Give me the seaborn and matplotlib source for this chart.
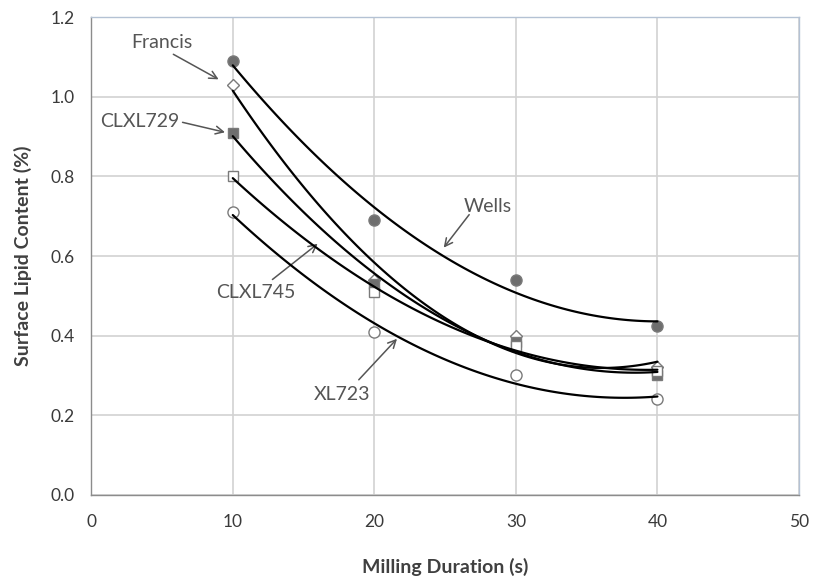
import numpy as np
import pandas as pd
import seaborn as sns
import matplotlib.pyplot as plt

# Milling duration (s) and surface lipid content (%) per cultivar
duration = [10, 20, 30, 40]
wells = [1.09, 0.69, 0.54, 0.425]
francis = [1.03, 0.54, 0.40, 0.32]
clxl729 = [0.91, 0.53, 0.385, 0.30]
clxl745 = [0.80, 0.51, 0.375, 0.31]
xl723 = [0.71, 0.41, 0.30, 0.24]

x_ticks = [0, 10, 20, 30, 40, 50]
y_ticks = [0.0, 0.2, 0.4, 0.6, 0.8, 1.0, 1.2]

sns.set_theme(style="white")
plt.rcParams['font.family'] = ['Lato', 'DejaVu Sans']

fig, ax = plt.subplots(figsize=(8.22, 5.76), dpi=100)
fig.subplots_adjust(left=0.111, right=0.972, bottom=0.141, top=0.970)

# marker style per series: (marker, face, size)
styles = {
    'Wells': ('o', '#6e6e6e', 8),
    'Francis': ('D', 'white', 6.5),
    'CLXL729': ('s', '#6e6e6e', 7.5),
    'CLXL745': ('s', 'white', 7.5),
    'XL723': ('o', 'white', 8),
}
series = {'Wells': wells, 'Francis': francis, 'CLXL729': clxl729,
          'CLXL745': clxl745, 'XL723': xl723}

for name, vals in series.items():
    df = pd.DataFrame({'t': duration, 'lipid': vals})
    marker, face, size = styles[name]
    ax.plot(df['t'], df['lipid'], linestyle='none', marker=marker,
            markerfacecolor=face, markeredgecolor='#7a7a7a',
            markeredgewidth=1.0, markersize=size, zorder=3)
    # second order polynomial trendline like the Excel original
    sns.regplot(data=df, x='t', y='lipid', order=2, ci=None, scatter=False,
                ax=ax, line_kws=dict(color='black', lw=1.6, zorder=4))

ax.set_xlim(0, 50)
ax.set_ylim(0, 1.2)
ax.set_xticks(x_ticks)
ax.set_yticks(y_ticks)
ax.set_yticklabels([f"{v:.1f}" for v in y_ticks], fontsize=12.5,
                   color='#3a3a3a')
ax.set_xticklabels([str(v) for v in x_ticks], fontsize=12.5,
                   color='#3a3a3a')

ax.grid(True, color='#d2d2d2', lw=1.2)
ax.set_axisbelow(True)
for side in ['left', 'bottom']:
    ax.spines[side].set_color('#8c8c8c')
    ax.spines[side].set_linewidth(1.0)
for side in ['top', 'right']:
    ax.spines[side].set_color('#b4c2d4')
    ax.spines[side].set_linewidth(1.0)
ax.tick_params(axis='both', direction='out', length=5, width=1,
               color='#8c8c8c')
ax.tick_params(axis='y', pad=7)
ax.tick_params(axis='x', pad=9)

ax.set_xlabel('Milling Duration (s)', fontsize=14, fontweight='bold',
              color='#404040', labelpad=20)
ax.set_ylabel('Surface Lipid Content (%)', fontsize=14, fontweight='bold',
              color='#404040', labelpad=13)

# series labels with arrows
labels = [
    ('Francis', (4.96, 1.137), (5.8, 1.107), (9.0, 1.044)),
    ('CLXL729', (3.4, 0.938), (6.45, 0.936), (9.45, 0.911)),
    ('Wells', (28.0, 0.725), (26.7, 0.704), (24.9, 0.621)),
    ('CLXL745', (11.6, 0.508), (12.8, 0.541), (16.0, 0.631)),
    ('XL723', (17.7, 0.252), (18.9, 0.289), (21.6, 0.392)),
]
for text, pos, tail, head in labels:
    ax.text(pos[0], pos[1], text, fontsize=14, color='#555555',
            ha='center', va='center')
    ax.annotate('', xy=head, xytext=tail,
                arrowprops=dict(arrowstyle='->', color='#555555', lw=1.1,
                                shrinkA=0, shrinkB=0,
                                mutation_scale=14))

fig.savefig('out.png', dpi=100)
